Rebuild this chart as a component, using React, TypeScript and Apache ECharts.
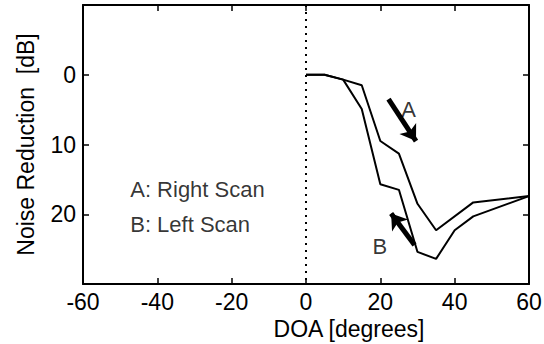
import React, { useEffect, useRef } from "react";
import * as echarts from "echarts";

// Scan A (right scan) – DOA in degrees, noise reduction in dB
const scanADoa = [0, 5, 10, 15, 20, 25, 30, 35, 45, 60];
const scanANr = [0, 0, 0.7, 1.5, 9.5, 11.3, 18.5, 22.3, 18.3, 17.4];
// Scan B (left scan)
const scanBDoa = [0, 5, 10, 15, 20, 25, 30, 35, 40, 45, 60];
const scanBNr = [0, 0, 0.7, 4.9, 15.7, 16.5, 25.4, 26.4, 22.3, 20.3, 17.4];

// Direction arrows [tail, tip]
const arrowA = [[22.2, 3.5], [29.6, 9.5]];
const arrowB = [[29.2, 24.4], [22.9, 19.9]];
const arrowLabels = [
  { name: "A", value: [27.6, 5.0] },
  { name: "B", value: [19.9, 24.6] },
];
const notes = [
  { name: "A: Right Scan", value: [-47.3, 16.4] },
  { name: "B: Left Scan", value: [-47.3, 21.4] },
];

const xMin = -60, xMax = 60, xStep = 20;
const yMin = -10, yMax = 30, yStep = 10;
const hiddenYLabels = [-10, 30];

const FONT = "'Liberation Sans', Arial, Helvetica, sans-serif";
const INK = "#000";

export default function App() {
  const ref = useRef<HTMLDivElement>(null);
  useEffect(() => {
    if (!ref.current) return;
    const chart = echarts.init(ref.current, undefined, { renderer: "svg" });
    const axisLine = { show: true, onZero: false, lineStyle: { color: INK, width: 2 } };
    const axisTick = { show: true, inside: true, length: 6, lineStyle: { color: INK, width: 1.5 } };
    chart.setOption({
      animation: false,
      backgroundColor: "#fff",
      textStyle: { fontFamily: FONT, color: INK },
      grid: { left: 83, right: 15, top: 5, bottom: 60, containLabel: false, outerBoundsMode: "none" },
      xAxis: [
        {
          type: "value", min: xMin, max: xMax, interval: xStep, position: "bottom",
          axisLine, axisTick, splitLine: { show: false },
          axisLabel: { color: INK, fontSize: 23, fontFamily: FONT, margin: 6 },
          name: "DOA [degrees]", nameLocation: "middle", nameGap: 33,
          nameTextStyle: { color: INK, fontSize: 23, fontFamily: FONT, padding: [0, 0, 0, 86] },
        },
        {
          type: "value", min: xMin, max: xMax, interval: xStep, position: "top",
          axisLine, axisTick, splitLine: { show: false }, axisLabel: { show: false },
        },
      ],
      yAxis: [
        {
          type: "value", min: yMin, max: yMax, interval: yStep, inverse: true, position: "left",
          axisLine, axisTick, splitLine: { show: false },
          axisLabel: {
            color: INK, fontSize: 23, fontFamily: FONT, margin: 7,
            formatter: (v: number) => (hiddenYLabels.includes(v) ? "" : String(v)),
          },
          name: "Noise Reduction  [dB]", nameLocation: "middle", nameGap: 46,
          nameTextStyle: { color: INK, fontSize: 23, fontFamily: FONT },
        },
        {
          type: "value", min: yMin, max: yMax, interval: yStep, inverse: true, position: "right",
          axisLine, axisTick, splitLine: { show: false }, axisLabel: { show: false },
        },
      ],
      series: [
        {
          name: "A", type: "line", xAxisIndex: 0, yAxisIndex: 0,
          data: scanADoa.map((x, i) => [x, scanANr[i]]),
          showSymbol: false, symbol: "none",
          lineStyle: { color: INK, width: 2 },
          markLine: {
            silent: true, symbol: "none", label: { show: false },
            lineStyle: { color: INK, type: [2, 5], width: 2 },
            data: [{ xAxis: 0 }],
          },
        },
        {
          name: "B", type: "line", xAxisIndex: 0, yAxisIndex: 0,
          data: scanBDoa.map((x, i) => [x, scanBNr[i]]),
          showSymbol: false, symbol: "none",
          lineStyle: { color: INK, width: 2 },
        },
        {
          type: "lines", coordinateSystem: "cartesian2d", xAxisIndex: 0, yAxisIndex: 0,
          symbol: ["none", "arrow"], symbolSize: 15,
          lineStyle: { color: INK, width: 5, opacity: 1 },
          itemStyle: { color: INK },
          data: [{ coords: arrowA }, { coords: arrowB }],
        },
        {
          type: "scatter", xAxisIndex: 0, yAxisIndex: 0, symbolSize: 0,
          data: arrowLabels,
          label: {
            show: true, position: "inside", formatter: "{b}",
            color: INK, fontSize: 22, fontFamily: FONT,
          },
        },
        {
          type: "scatter", xAxisIndex: 0, yAxisIndex: 0, symbolSize: 0,
          data: notes,
          label: {
            show: true, position: "right", distance: 0, formatter: "{b}",
            color: INK, fontSize: 22, fontFamily: FONT,
          },
        },
      ],
    });
    return () => chart.dispose();
  }, []);
  return (
    <div
      ref={ref}
      style={{ position: "fixed", left: 0, top: 0, width: 544, height: 344, background: "#fff" }}
    />
  );
}
